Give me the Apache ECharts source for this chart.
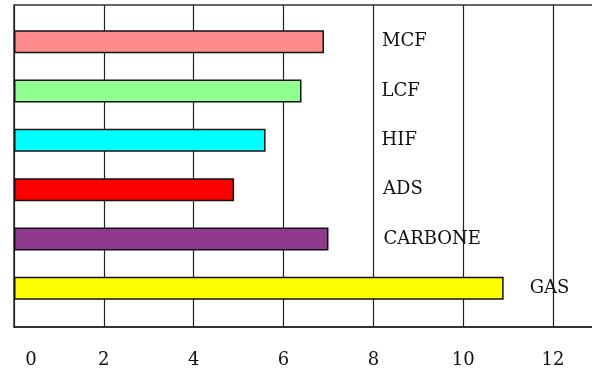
<!DOCTYPE html>
<html>
<head>
<meta charset="utf-8">
<script src="https://cdn.jsdelivr.net/npm/echarts@6/dist/echarts.min.js"></script>
<style>html,body{margin:0;padding:0;background:#fff}#c{width:592px;height:372px}</style>
</head>
<body>
<div id="c"></div>
<script>
const categories = ['MCF', 'LCF', 'HIF', 'ADS', 'CARBONE', 'GAS'];
const values = [6.9, 6.4, 5.6, 4.9, 7.0, 10.9];
const barColors = ['#FF8C8C', '#8FFF8F', '#00FFFF', '#FF0000', '#8E3A8E', '#FFFF00'];
const labelGaps = [58, 80, 116, 149, 55, 26];

const FONT = 'DejaVu Serif';
const chart = echarts.init(document.getElementById('c'), null, {renderer: 'canvas'});

const barData = values.map((v, i) => ({
  value: v,
  itemStyle: {color: barColors[i]},
  label: {distance: labelGaps[i]}
}));

chart.setOption({
  animation: false,
  backgroundColor: '#fff',
  grid: [
    {left: 14, top: 5, width: 584, height: 322, show: true, borderColor: '#333', borderWidth: 1.5, backgroundColor: 'transparent', outerBoundsMode: 'none', containLabel: false},
    {left: 14, top: 17, width: 584, height: 296, outerBoundsMode: 'none', containLabel: false}
  ],
  xAxis: [
    {
      gridIndex: 0, type: 'value', min: 0, max: 13, interval: 2,
      axisLine: {show: true, lineStyle: {color: '#222', width: 1.5}},
      axisTick: {show: false},
      splitLine: {show: true, lineStyle: {color: '#222', width: 1.2}},
      axisLabel: {
        margin: 24, color: '#111', fontFamily: FONT, fontSize: 18,
        showMaxLabel: false,
        formatter: function (v) { return v === 0 ? '{z|0}' : (v % 2 === 0 ? String(v) : ''); },
        rich: {z: {padding: [0, 0, 0, 34], fontFamily: FONT, fontSize: 18, color: '#111'}}
      }
    },
    {gridIndex: 1, type: 'value', min: 0, max: 13, show: false, splitLine: {show: false}}
  ],
  yAxis: [
    {gridIndex: 0, type: 'value', min: 0, max: 1, show: false, splitLine: {show: false}},
    {gridIndex: 1, type: 'category', inverse: true, data: categories, show: false}
  ],
  series: [{
    type: 'bar',
    xAxisIndex: 1, yAxisIndex: 1,
    barWidth: 23,
    data: barData,
    itemStyle: {borderColor: '#111', borderWidth: 1.5},
    label: {
      show: true, position: 'right',
      formatter: function (p) { return categories[p.dataIndex]; },
      color: '#111', fontFamily: FONT, fontSize: 18
    },
    z: 5
  }]
});
</script>
</body>
</html>
